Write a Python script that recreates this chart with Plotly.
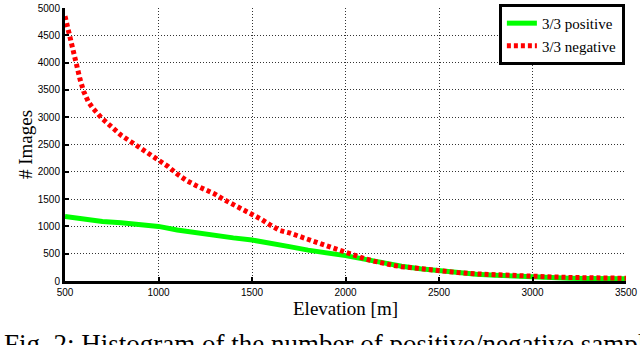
import plotly.graph_objects as go

# Negative (red dotted) series
neg_elev = [500, 520, 540, 560, 580, 600, 625, 650, 700, 750, 800, 850, 900, 950,
            1000, 1050, 1100, 1150, 1200, 1250, 1300, 1350, 1400, 1450, 1500, 1550,
            1600, 1650, 1700, 1750, 1800, 1850, 1900, 1950, 2000, 2050, 2100, 2150,
            2200, 2250, 2300, 2400, 2500, 2600, 2700, 2800, 2900, 3000, 3100, 3200,
            3300, 3400, 3500]
neg_count = [4850, 4550, 4250, 4000, 3700, 3470, 3280, 3160, 2970, 2820, 2670, 2555,
             2440, 2340, 2230, 2100, 1960, 1840, 1750, 1680, 1595, 1490, 1405, 1320,
             1240, 1130, 1020, 925, 880, 820, 750, 690, 630, 580, 520, 450, 410, 365,
             320, 290, 262, 222, 185, 155, 130, 112, 100, 90, 75, 65, 60, 55, 50]

# Positive (green solid) series
pos_elev = [500, 600, 700, 800, 900, 1000, 1100, 1200, 1300, 1400, 1500, 1600, 1700,
            1800, 1900, 2000, 2100, 2200, 2300, 2400, 2500, 2600, 2700, 2800, 2900,
            3000, 3100, 3200, 3300, 3400, 3500]
pos_count = [1180, 1130, 1090, 1065, 1040, 1000, 935, 880, 835, 790, 750, 700, 630,
             565, 525, 465, 400, 330, 270, 225, 185, 150, 125, 105, 88, 72, 60, 52,
             46, 42, 40]

x_ticks = [500, 1000, 1500, 2000, 2500, 3000, 3500]
y_ticks = [0, 500, 1000, 1500, 2000, 2500, 3000, 3500, 4000, 4500, 5000]

fig = go.Figure()
fig.add_trace(go.Scatter(x=pos_elev, y=pos_count, mode="lines", name="3/3 positive",
                         line=dict(color="#00ff00", width=5)))
fig.add_trace(go.Scatter(x=neg_elev, y=neg_count, mode="lines", name="3/3 negative",
                         line=dict(color="#ff0000", width=5, dash="4px,3px")))

tick_font = dict(family="Liberation Sans", size=10, color="black")
serif = "Liberation Serif"

axis_common = dict(showline=True, linecolor="black", linewidth=3,
                   ticks="inside", ticklen=4, tickwidth=2, tickcolor="black",
                   showgrid=True, gridcolor="#333333", gridwidth=1, griddash="1px,2px",
                   zeroline=False, tickfont=tick_font, ticklabeloverflow="allow")

fig.update_layout(
    width=640, height=345,
    margin=dict(l=65, r=14, t=2, b=64),
    paper_bgcolor="white", plot_bgcolor="white",
    showlegend=True,
    legend=dict(x=0.998, y=1.015, xanchor="right", yanchor="top",
                bgcolor="white", bordercolor="black", borderwidth=3,
                font=dict(family=serif, size=15, color="black"),
                tracegroupgap=0, itemwidth=30),
    xaxis=dict(range=[500, 3500], tickvals=x_ticks, ticktext=[str(v) for v in x_ticks],
               title=dict(text="Elevation [m]", font=dict(family=serif, size=19, color="black"),
                          standoff=2),
               **axis_common),
    yaxis=dict(range=[0, 5000], tickvals=y_ticks, ticktext=[str(v) for v in y_ticks],
               title=dict(text="# Images", font=dict(family=serif, size=19, color="black"),
                          standoff=1),
               **axis_common),
    annotations=[dict(text="Fig. 2: Histogram of the number of positive/negative samples",
                      xref="paper", yref="paper", x=-0.113, y=-0.168,
                      xanchor="left", yanchor="top", showarrow=False,
                      font=dict(family=serif, size=27, color="black"))],
)

fig.write_html("out.html", config={"displayModeBar": False},
               post_script="document.body.style.margin='0';document.body.style.overflow='hidden';")
